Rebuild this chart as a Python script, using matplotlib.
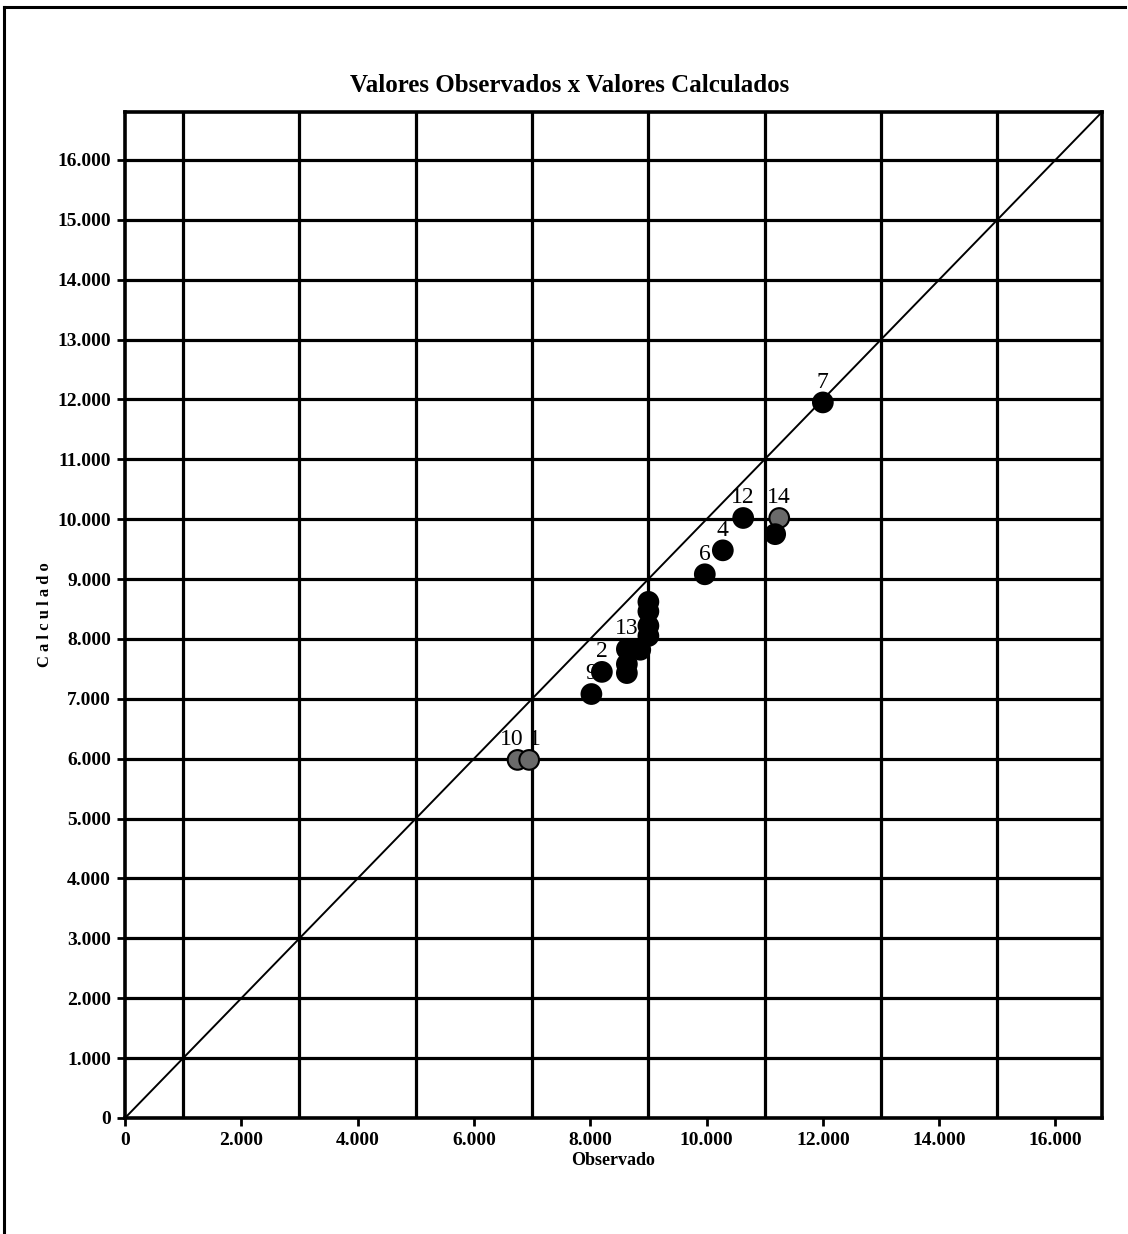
import numpy as np
import matplotlib
matplotlib.use('Agg')
import matplotlib.pyplot as plt
from matplotlib.lines import Line2D
from matplotlib.ticker import FuncFormatter, MultipleLocator

# -------------------- Data --------------------
observado = [12000, 10630, 11250, 11180, 10280, 9970, 8630, 8630, 8630, 8860,
             9000, 9000, 9000, 9000, 8200, 8020, 6750, 6950]
calculado = [11950, 10020, 10020, 9750, 9480, 9080, 7830, 7580, 7430, 7820,
             8620, 8460, 8220, 8050, 7450, 7080, 5980, 5980]
rotulos = ['7', '12', '14', '', '4', '6', '13', '', '', '',
           '', '', '', '', '2', '9', '10', '1']
cinza = ['14', '10', '1']

AX_MAX = 16800
y_ticks = list(range(0, 16001, 1000))
x_grid = list(range(1000, 16000, 2000))

SERIF = 'Liberation Serif'
# horizontal nudge (points) for the two labels that collide
NUDGE = {'10': -4, '1': 4}


def fmt_milhar(v, pos=None):
    """12000 -> 12.000"""
    return f"{int(v):,}".replace(',', '.')


# -------------------- Figure --------------------
fig = plt.figure(figsize=(11.28, 12.34), dpi=100)
ax = fig.add_axes([125 / 1128, 1 - 1118 / 1234, 977 / 1128, 1006 / 1234])

ax.set_xlim(0, AX_MAX)
ax.set_ylim(0, AX_MAX)

# grid: horizontal at every 1000, vertical only at odd thousands
for y in y_ticks[1:]:
    ax.axhline(y, color='black', lw=2.3, zorder=1)
for x in x_grid:
    ax.axvline(x, color='black', lw=2.3, zorder=1)

# y = x reference line
ax.plot([0, AX_MAX], [0, AX_MAX], color='black', lw=1.4, zorder=2)

cores = ['#6a6a6a' if r in cinza else 'black' for r in rotulos]
ax.scatter(observado, calculado, s=200, c=cores, edgecolors='black',
           linewidths=1.5, zorder=3)

for xo, yc, r in zip(observado, calculado, rotulos):
    if r:
        ax.annotate(r, (xo, yc), xytext=(NUDGE.get(r, 0), 7),
                    textcoords='offset points', ha='center', va='bottom',
                    fontsize=17, family=SERIF, zorder=4)

ax.xaxis.set_major_locator(MultipleLocator(2000))
ax.yaxis.set_major_locator(MultipleLocator(1000))
ax.xaxis.set_major_formatter(FuncFormatter(fmt_milhar))
ax.yaxis.set_major_formatter(FuncFormatter(fmt_milhar))
ax.tick_params(axis='both', direction='out', length=6, width=2, pad=4)
for lab in ax.get_xticklabels() + ax.get_yticklabels():
    lab.set_family(SERIF)
    lab.set_fontweight('bold')
    lab.set_fontsize(14)

for sp in ax.spines.values():
    sp.set_linewidth(2.6)

ax.set_xlabel('Observado', fontsize=13, fontweight='bold', family=SERIF,
              labelpad=2)
ax.set_ylabel('C a l c u l a d o', fontsize=12, fontweight='bold',
              family=SERIF)
ax.yaxis.set_label_coords(-72 / 977, 0.5)

fig.text(570 / 1128, 1 - 85 / 1234, 'Valores Observados x Valores Calculados',
         ha='center', va='center', fontsize=18, fontweight='bold',
         family=SERIF)

# outer frame (left and top edges of the original page)
fig.add_artist(Line2D([4 / 1128, 4 / 1128], [0, 1 - 7 / 1234],
                      transform=fig.transFigure, color='black', lw=2.2))
fig.add_artist(Line2D([4 / 1128, 1125 / 1128], [1 - 7 / 1234, 1 - 7 / 1234],
                      transform=fig.transFigure, color='black', lw=2.2))

fig.savefig('out.png', dpi=100, facecolor='white')
